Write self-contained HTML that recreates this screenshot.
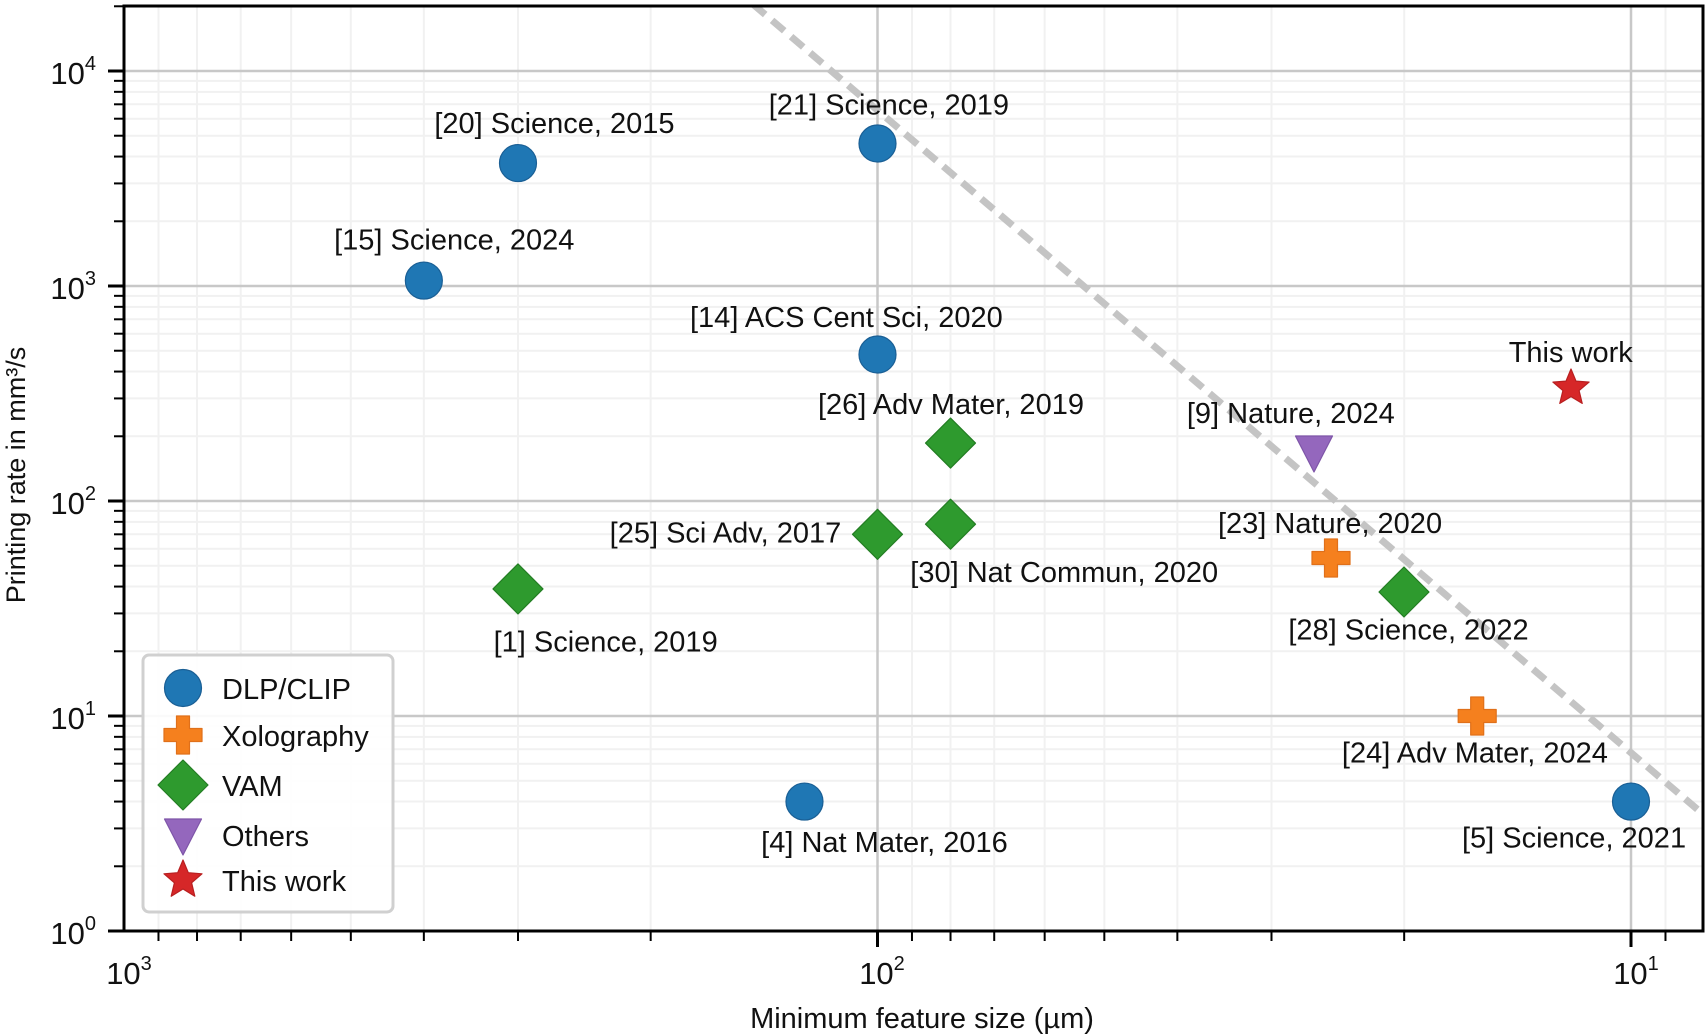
<!DOCTYPE html>
<html><head><meta charset="utf-8"><style>
html,body{margin:0;padding:0;background:#fff;}
svg{display:block;font-family:"Liberation Sans",Arial,sans-serif;}
</style></head><body>
<svg id="s" width="1708" height="1036" xmlns="http://www.w3.org/2000/svg"></svg>
<script>
const S=document.getElementById('s');
const L=124,R=1703,T=6,B=931;
const X=v=>124+(3-Math.log10(v))*753.5;
const Y=v=>931-Math.log10(v)*215;
let h='';
h+=`<defs><clipPath id="c"><rect x="${L}" y="${T}" width="${R-L}" height="${B-T}"/></clipPath></defs>`;
let g='';
for(let d=0;d<3;d++)for(let k=2;k<10;k++){const xv=Math.pow(10,d)*k;const x=X(xv);if(x>L&&x<R)g+=`<line x1="${x}" y1="${T}" x2="${x}" y2="${B}" stroke="#f1f1f1" stroke-width="2"/>`;}
for(let d=0;d<5;d++)for(let k=2;k<10;k++){const yv=Math.pow(10,d)*k;const y=Y(yv);if(y>T&&y<B)g+=`<line x1="${L}" y1="${y}" x2="${R}" y2="${y}" stroke="#f1f1f1" stroke-width="2"/>`;}
for(let d=1;d<3;d++){const x=X(Math.pow(10,d));g+=`<line x1="${x}" y1="${T}" x2="${x}" y2="${B}" stroke="#c8c8c8" stroke-width="2.5"/>`;}
for(let d=1;d<5;d++){const y=Y(Math.pow(10,d));g+=`<line x1="${L}" y1="${y}" x2="${R}" y2="${y}" stroke="#c8c8c8" stroke-width="2.5"/>`;}
h+=g;
const sl=(815-5)/(1704-754);
h+=`<g clip-path="url(#c)"><line x1="${754-20}" y1="${5-20*sl}" x2="${1720}" y2="${5+(1720-754)*sl}" stroke="#c4c4c4" stroke-width="7" stroke-dasharray="16 9"/></g>`;
const circ=(x,y)=>`<circle cx="${x}" cy="${y}" r="18.5" fill="#1f77b4" stroke="#1a5f95" stroke-width="1.2"/>`;
const plus=(x,y)=>{const a=19,w=6.5;return `<path d="M${x-w} ${y-a}h${2*w}v${a-w}h${a-w}v${2*w}h-${a-w}v${a-w}h-${2*w}v-${a-w}h-${a-w}v-${2*w}h${a-w}z" fill="#f5801e" stroke="#e0701a" stroke-width="1.2" stroke-linejoin="round"/>`;};
const dia=(x,y)=>{const a=25;return `<path d="M${x} ${y-a}L${x+a} ${y}L${x} ${y+a}L${x-a} ${y}Z" fill="#2e9a2e" stroke="#237d23" stroke-width="1.2" stroke-linejoin="round"/>`;};
const tri=(x,y)=>`<path d="M${x-18.5} ${y-12}L${x+18.5} ${y-12}L${x} ${y+24}Z" fill="#9467bd" stroke="#7e55a8" stroke-width="1.2" stroke-linejoin="round"/>`;
const star=(x,y,r)=>{let p='';for(let i=0;i<10;i++){const rr=i%2?r*0.45:r;const a=-Math.PI/2+i*Math.PI/5;p+=(i?'L':'M')+(x+rr*Math.cos(a)).toFixed(1)+' '+(y+rr*Math.sin(a)).toFixed(1);}return `<path d="${p}Z" fill="#d62728" stroke="#b81f20" stroke-width="1.2" stroke-linejoin="round"/>`;};
h+=circ(X(300),Y(3730))+circ(X(100),Y(4600))+circ(X(400),Y(1060))+circ(X(100),Y(480))+circ(X(125),Y(4))+circ(X(10),Y(4));
h+=plus(1331,558)+plus(X(16),Y(10));
h+=dia(X(300),Y(39))+dia(X(100),Y(70))+dia(X(80),Y(186))+dia(X(80),Y(78))+dia(1404,592);
h+=tri(1314,448)+star(1571,388,19);
const f=1.0893;
const labs=[["[20] Science, 2015",509,113],["[21] Science, 2019",816,96],["[15] Science, 2024",417,220],["[14] ACS Cent Sci, 2020",777,291],["[26] Adv Mater, 2019",873,371],["[25] Sci Adv, 2017",666,489],["[30] Nat Commun, 2020",977,525],["[1] Science, 2019",556,589],["[9] Nature, 2024",1185,379],["This work",1442,323],["[23] Nature, 2020",1221,480],["[28] Science, 2022",1293,578],["[24] Adv Mater, 2024",1354,691],["[4] Nat Mater, 2016",812,773],["[5] Science, 2021",1445,769]];
for(const [t,x,y] of labs)h+=`<text x="${x*f}" y="${y*f+10}" font-size="29" text-anchor="middle" fill="#111">${t}</text>`;
h+=`<rect x="143" y="655" width="250" height="257" rx="6" fill="#fff" fill-opacity="0.9" stroke="#d0d0d0" stroke-width="3"/>`;
const ly=[688,735,785,835,880];
h+=circ(183,ly[0])+plus(183,ly[1])+dia(183,ly[2])+tri(183,ly[3]-4)+star(183,ly[4],20);
["DLP/CLIP","Xolography","VAM","Others","This work"].forEach((t,i)=>h+=`<text x="222" y="${ly[i]+11}" font-size="29" fill="#111">${t}</text>`);
h+=`<rect x="${L}" y="${T}" width="${R-L}" height="${B-T}" fill="none" stroke="#000" stroke-width="3"/>`;
for(let d=0;d<3;d++)for(let k=1;k<10;k++){const x=X(Math.pow(10,d)*k);if(x>=L-1&&x<=R){const len=k==1?16:10;h+=`<line x1="${x}" y1="${B}" x2="${x}" y2="${B+len}" stroke="#000" stroke-width="${k==1?3:2}"/>`;}}
for(let d=0;d<5;d++)for(let k=1;k<10;k++){const y=Y(Math.pow(10,d)*k);if(y>=T&&y<=B+1){const len=k==1?16:10;h+=`<line x1="${L-len}" y1="${y}" x2="${L}" y2="${y}" stroke="#000" stroke-width="${k==1?3:2}"/>`;}}
for(let d=0;d<5;d++){h+=`<text x="96" y="${Y(Math.pow(10,d))+13}" font-size="31" text-anchor="end" fill="#111">10<tspan dy="-14" font-size="20">${d}</tspan></text>`;}
[[3,124],[2,877],[1,1631]].forEach(([d,x])=>h+=`<text x="${x+5}" y="984" font-size="31" text-anchor="middle" fill="#111">10<tspan dy="-14" font-size="20">${d}</tspan></text>`);
h+=`<text x="922" y="1028" font-size="29" text-anchor="middle" fill="#111">Minimum feature size (µm)</text>`;
h+=`<text transform="translate(25,475) rotate(-90)" font-size="27" text-anchor="middle" fill="#111">Printing rate in mm³/s</text>`;
S.innerHTML=h;
</script>
</body></html>
